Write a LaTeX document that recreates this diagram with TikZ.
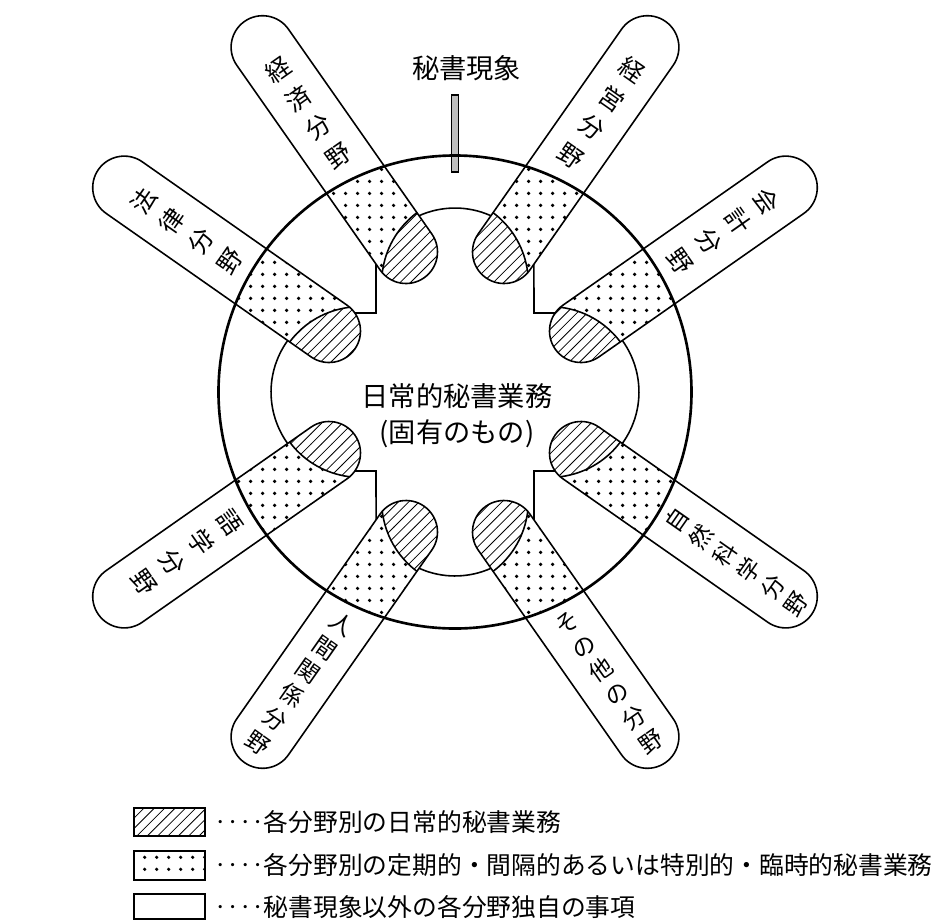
\documentclass[tikz,border=0pt]{standalone}
\usepackage{fontspec}
\setmainfont{Noto Sans CJK JP}
\usetikzlibrary{patterns}

\pgfdeclarepatternformonly{fielddots}{\pgfpointorigin}{\pgfqpoint{6.6pt}{6.6pt}}{\pgfqpoint{6.6pt}{6.6pt}}{%
  \pgfpathcircle{\pgfqpoint{3.3pt}{3.3pt}}{1.05pt}\pgfusepath{fill}}
\pgfdeclarepatternformonly{fieldhatch}{\pgfqpoint{-1pt}{-1pt}}{\pgfqpoint{6.9pt}{6.9pt}}{\pgfqpoint{5.9pt}{5.9pt}}{%
  \pgfsetlinewidth{0.45pt}\pgfpathmoveto{\pgfqpoint{0pt}{0pt}}\pgfpathlineto{\pgfqpoint{6pt}{6pt}}\pgfusepath{stroke}}

\newcommand\stadiumpath{(0,-31.5) -- (250,-31.5) arc[start angle=-90,end angle=90,radius=31.5] -- (0,31.5) arc[start angle=90,end angle=270,radius=31.5] -- cycle}
\newcommand\fourfont{\fontsize{14pt}{19.9pt}\selectfont}
\newcommand\sixfont{\fontsize{13.2pt}{16.6pt}\selectfont}
\newcommand\legdots{‥‥}

% #1 node name, #2 inner cap centre, #3 outward angle, #4 side (+1/-1), #5 label, #6 label rotation, #7 label position, #8 font
\newcommand\DrawField[8]{%
\begin{scope}[shift={#2}, rotate=#3, yscale=#4]
  \fill[white] \stadiumpath;
  \begin{scope}
    \clip \stadiumpath;
    \clip (O) circle[radius=236.5];
    \fill[pattern=fielddots] (-40,-40) rectangle (290,40);
  \end{scope}
  \begin{scope}
    \clip \stadiumpath;
    \fill[white] (-62.5,34.5) circle[radius=88.5];
    \fill[pattern=fieldhatch] (-62.5,34.5) circle[radius=88.5];
    \draw[outline] (-62.5,34.5) circle[radius=88.5];
  \end{scope}
  \draw[outline] \stadiumpath;
  \node[fieldtext, font=#8, rotate=#6] (#1) at (#7,0) {#5};
\end{scope}}

\begin{document}
\begin{tikzpicture}[x=0.02cm,y=0.02cm,
  ring/.style={line width=1.5pt},
  outline/.style={line width=0.9pt},
  lobe/.style={line width=0.9pt},
  fieldtext/.style={align=center, inner sep=0pt},
  legtext/.style={anchor=west, inner sep=0pt, font=\fontsize{14.1pt}{16pt}\selectfont},
  swatch/.style={line width=0.8pt}]
\fill[white] (-455,-529) rectangle (485,392);
\useasboundingbox (-455,-529) rectangle (485,392);
\coordinate (O) at (0,0);

% inner region (cross with rounded lobes)
\draw[lobe] (-79,79) -- (-79,134.8) arc[start angle=153.8,end angle=26.2,radius=88]
  -- (79,79) -- (134.8,79) arc[start angle=63.8,end angle=-63.8,radius=88]
  -- (79,-79) -- (79,-134.8) arc[start angle=-26.2,end angle=-153.8,radius=88]
  -- (-79,-79) -- (-134.8,-79) arc[start angle=243.8,end angle=116.2,radius=88] -- cycle;

% the eight fields
\DrawField{f1}{(-49,140)}{125}{-1}{経\\済\\分\\野}{35}{170}{\fourfont}
\DrawField{f2}{(49,140)}{55}{1}{経\\営\\分\\野}{-35}{170}{\fourfont}
\DrawField{f3}{(-126,61)}{145}{1}{法\\律\\分\\野}{55}{174}{\fourfont}
\DrawField{f4}{(126,61)}{35}{-1}{会\\計\\分\\野}{-55}{174}{\fourfont}
\DrawField{f5}{(-126,-61)}{215}{-1}{語\\学\\分\\野}{-55}{174}{\fourfont}
\DrawField{f6}{(126,-61)}{-35}{1}{自\\然\\科\\学\\分\\野}{55}{190}{\sixfont}
\DrawField{f7}{(-49,-140)}{235}{1}{人\\間\\関\\係\\分\\野}{-35}{185}{\sixfont}
\DrawField{f8}{(49,-140)}{-55}{-1}{そ\\の\\他\\の\\分\\野}{35}{184}{\sixfont}

% marker bar and outer circle
\draw[line width=0.6pt, fill=black!25] (-3.5,220) rectangle (3.5,297);
\draw[ring] (O) circle[radius=236.5];

\node[font=\fontsize{15.5pt}{18pt}\selectfont, inner sep=0pt] (phen) at (11.7,324) {秘書現象};
\node[font=\fontsize{15.5pt}{20.5pt}\selectfont, align=center, inner sep=0pt] (core) at (2,-24) {日常的秘書業務\\(固有のもの)};

% legend
\draw[swatch, pattern=fieldhatch] (-321,-444) rectangle (-250,-416);
\draw[swatch, pattern=fielddots] (-321,-488) rectangle (-250,-459);
\draw[swatch] (-321,-527) rectangle (-250,-502);
\node[legtext] (leg1) at (-241,-430) {\legdots 各分野別の日常的秘書業務};
\node[legtext] (leg2) at (-241,-473.5) {\legdots 各分野別の定期的・間隔的あるいは特別的・臨時的秘書業務};
\node[legtext] (leg3) at (-241,-515) {\legdots 秘書現象以外の各分野独自の事項};
\end{tikzpicture}
\end{document}
